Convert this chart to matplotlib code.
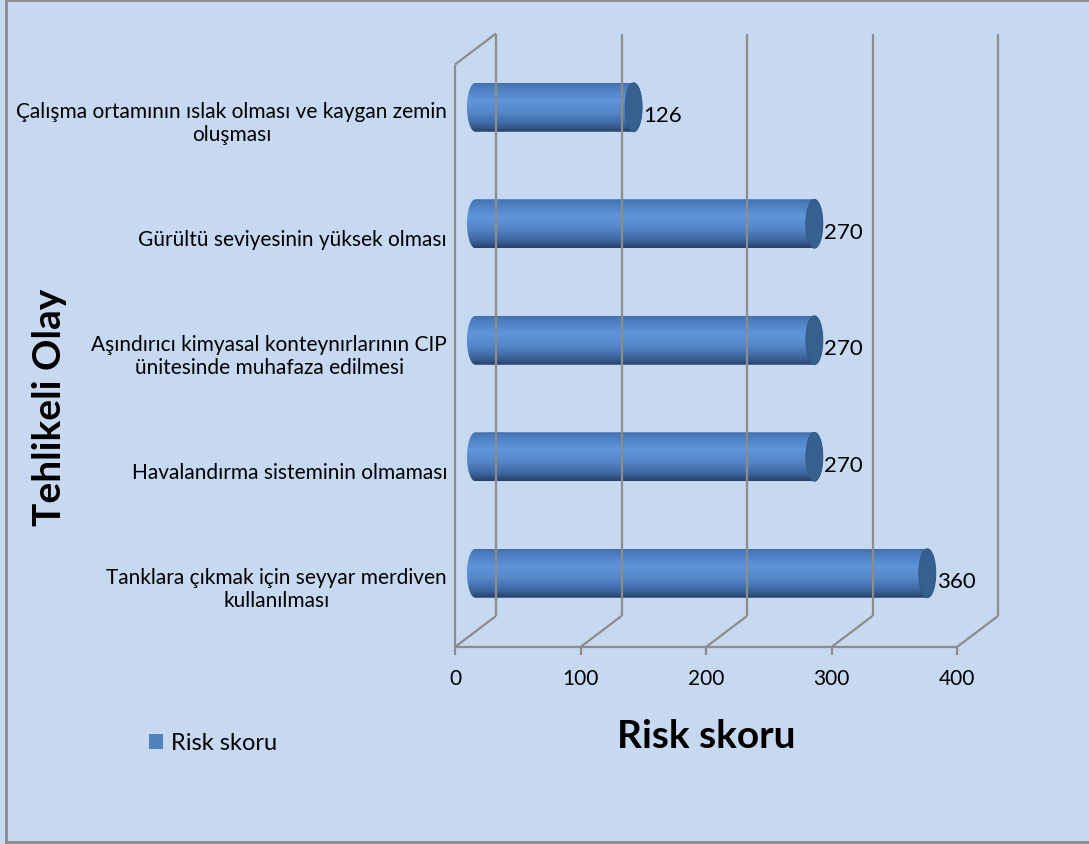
import numpy as np
import matplotlib
matplotlib.use("Agg")
import matplotlib.pyplot as plt
from matplotlib.patches import Ellipse, PathPatch, Patch
from matplotlib.path import Path
from matplotlib.lines import Line2D
from matplotlib.transforms import offset_copy
from matplotlib.colors import LinearSegmentedColormap

plt.rcParams['font.family'] = ['Lato', 'DejaVu Sans']

# Veriler (aşağıdan yukarıya)
categories = [
    "Tanklara çıkmak için seyyar merdiven\nkullanılması",
    "Havalandırma sisteminin olmaması",
    "Aşındırıcı kimyasal konteynırlarının CIP\nünitesinde muhafaza edilmesi",
    "Gürültü seviyesinin yüksek olması",
    "Çalışma ortamının ıslak olması ve kaygan zemin\noluşması",
]
risk_scores = [360, 270, 270, 270, 126]
x_ticks = [0, 100, 200, 300, 400]

BG = "#C6D9F1"
GRID = "#8C8C8C"
W, H = 1089, 845

fig = plt.figure(figsize=(W / 100, H / 100), dpi=100, facecolor=BG)

# eksen: orta derinlik düzlemi
ax = fig.add_axes([475.5 / W, 1 - 632.5 / H, 502 / W, 582.5 / H])
ax.set_xlim(0, 400)
ax.set_ylim(-0.5, 4.5)
ax.axis("off")

# 3B derinlik (piksel -> veri birimi)
DX, DY = 20.5, 15.5
px_x = ax.bbox.width / 400
px_y = ax.bbox.height / 5
dx, dy = DX / px_x, DY / px_y
y0, y1 = -0.5, 4.5

line_kw = dict(color=GRID, lw=1.6, clip_on=False, solid_capstyle="butt")
for t in x_ticks:
    # arka duvar ızgara çizgileri
    ax.plot([t + dx, t + dx], [y0 + dy, y1 + dy], **line_kw)
    # zemin köşegenleri
    ax.plot([t - dx, t + dx], [y0 - dy, y0 + dy], **line_kw)
    # ön tik işaretleri
    ax.plot([t - dx, t - dx], [y0 - dy, y0 - dy - 8 / px_y], **line_kw)
# ön zemin çizgisi
ax.plot([x_ticks[0] - dx, x_ticks[-1] - dx], [y0 - dy, y0 - dy], **line_kw)
# sol duvar
ax.plot([-dx, -dx], [y0 - dy, y1 - dy], **line_kw)
ax.plot([-dx, dx], [y1 - dy, y1 + dy], **line_kw)

# silindir çubuklar
cmap = LinearSegmentedColormap.from_list("cyl", [
    (0.00, "#436FAA"), (0.08, "#4B7CBD"), (0.35, "#5E95DA"),
    (0.60, "#5587C9"), (0.85, "#3C659D"), (1.00, "#263F66")])
grad = np.linspace(0, 1, 256).reshape(-1, 1)
bar_h = 49 / px_y
a = 8.5 / px_x
th = np.linspace(0, np.pi, 40)

for i, v in enumerate(risk_scores):
    top, bot = i + bar_h / 2, i - bar_h / 2
    right = np.column_stack([v + a * np.sin(th), i + bar_h / 2 * np.cos(th)])
    left = np.column_stack([-a * np.sin(th), i - bar_h / 2 * np.cos(th)])
    verts = np.vstack([[[0, top]], right, [[0, bot]], left, [[0, top]]])
    body = PathPatch(Path(verts), facecolor="none", edgecolor="none",
                     clip_on=False)
    ax.add_patch(body)
    im = ax.imshow(grad, cmap=cmap, extent=(-a, v + a, bot, top),
                   aspect="auto", origin="upper", interpolation="bilinear")
    im.set_clip_box(fig.bbox)
    im.set_clip_path(body)
    ax.add_patch(Ellipse((v, i), 2 * a, bar_h, facecolor="#35608F",
                         edgecolor="#2F5683", lw=0.6, clip_on=False))
    ax.text(v, i, str(v), fontsize=16, ha="left", va="center",
            transform=offset_copy(ax.transData, fig=fig, x=a * px_x + 1,
                                  y=-8, units="dots"))

ax.set_xlim(0, 400)
ax.set_ylim(-0.5, 4.5)

# kategori etiketleri
front = offset_copy(ax.transData, fig=fig, x=-DX - 8, y=-DY, units="dots")
for i, lab in enumerate(categories):
    ax.text(0, i, lab, transform=front, ha="right", va="center",
            multialignment="center", fontsize=15, linespacing=1.2)

# x tik etiketleri
tick_tr = offset_copy(ax.transData, fig=fig, x=-DX, y=-DY - 31, units="dots")
for t in x_ticks:
    ax.text(t, y0, str(t), transform=tick_tr, ha="center", va="center",
            fontsize=15)

fig.text(706 / W, 1 - 737 / H, "Risk skoru", ha="center", va="center",
         fontsize=28, fontweight="bold")
fig.text(50 / W, 1 - 407 / H, "Tehlikeli Olay", ha="center", va="center",
         rotation=90, fontsize=28, fontweight="bold")

fig.legend(handles=[Patch(facecolor="#4F81BD", label="Risk skoru")],
           loc="center left", bbox_to_anchor=(149 / W, 1 - 744 / H),
           frameon=False, fontsize=17, handlelength=0.6, handleheight=0.6,
           handletextpad=0.35, borderpad=0, borderaxespad=0)

# dış çerçeve (sol, üst, alt)
for xs, ys in [((6, 6), (1, 843)), ((6, 1089), (1, 1)), ((6, 1089), (843, 843))]:
    fig.add_artist(Line2D([x / W for x in xs], [1 - y / H for y in ys],
                          color=GRID, lw=2))

fig.savefig("out.png", dpi=100, facecolor=BG)
